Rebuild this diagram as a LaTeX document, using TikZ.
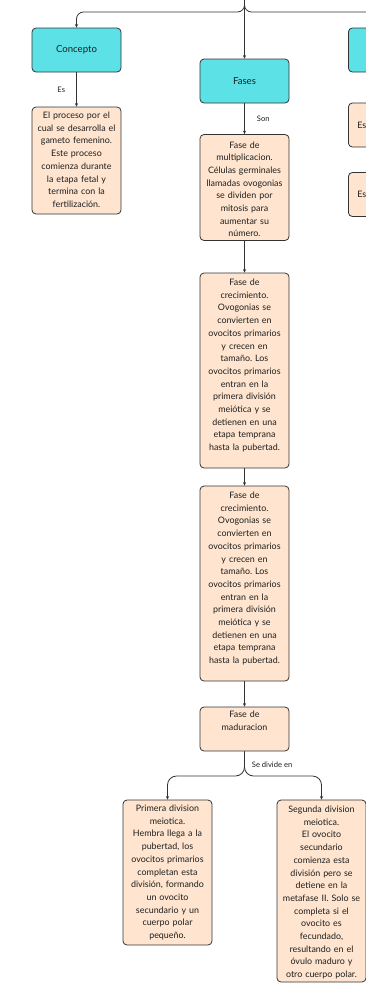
\documentclass[tikz,border=0pt]{standalone}
\usepackage{fontspec}
\setmainfont{Lato}
\usetikzlibrary{arrows.meta}
\definecolor{cyanfill}{HTML}{5CE1E6}
\definecolor{peach}{HTML}{FFE5CF}
\definecolor{edgec}{HTML}{333333}
\definecolor{txt}{HTML}{1E1E1E}
\frenchspacing
\begin{document}
\begin{tikzpicture}[x=1pt,y=-1pt,
  box/.style={draw=edgec, line width=0.8pt, rounded corners=4pt, minimum width=89pt,
    inner xsep=0pt, text width=89pt, align=center,
    font=\fontsize{8.9}{12.7}\selectfont\frenchspacing, text=txt},
  head/.style={box, fill=cyanfill, minimum height=44pt, font=\fontsize{9.6}{12}\selectfont},
  info/.style={box, fill=peach, text height=0pt},
  partial/.style={box, fill=peach, minimum height=44pt, anchor=west, align=left,
    text width=80pt, inner xsep=9pt},
  arr/.style={-{Stealth[length=3.5pt,width=3.2pt]}, line width=0.8pt, draw=edgec},
  lab/.style={font=\fontsize{7.6}{9}\selectfont, text=txt, inner sep=0pt}]
\useasboundingbox (0,0) rectangle (366,983);
\clip (0,0) rectangle (366,983);

% nodes
\node[head] (concepto) at (76.5,50) {Concepto};
\node[info, minimum height=107pt, text depth=84pt] (desc) at (76.5,160.5)
  {El proceso por el\\cual se desarrolla el\\gameto femenino.\\Este proceso\\comienza durante\\la etapa fetal y\\termina con la\\fertilización.};
\node[head] (fases) at (244.5,81) {Fases};
\node[info, minimum height=106pt, text depth=79pt] (mult) at (244.5,187.5)
  {Fase de\\multiplicacion.\\Células germinales\\llamadas ovogonias\\se dividen por\\mitosis para\\aumentar su\\número.};
\node[info, minimum height=195pt, text depth=170pt] (crec1) at (244.5,370.5)
  {Fase de\\crecimiento.\\Ovogonias se\\convierten en\\ovocitos primarios\\y crecen en\\tamaño. Los\\ovocitos primarios\\entran en la\\primera división\\meiótica y se\\detienen en una\\etapa temprana\\hasta la pubertad.};
\node[info, minimum height=195pt, text depth=170pt] (crec2) at (244.5,583.5)
  {Fase de\\crecimiento.\\Ovogonias se\\convierten en\\ovocitos primarios\\y crecen en\\tamaño. Los\\ovocitos primarios\\entran en la\\primera división\\meiótica y se\\detienen en una\\etapa temprana\\hasta la pubertad.};
\node[info, minimum height=44pt, text depth=23pt] (mad) at (244.5,729)
  {Fase de\\maduracion};
\node[info, minimum height=145pt, text depth=122pt] (prim) at (167.5,872.5)
  {Primera division\\meiotica.\\Hembra llega a la\\pubertad, los\\ovocitos primarios\\completan esta\\división, formando\\un ovocito\\secundario y un\\cuerpo polar\\pequeño.};
\node[info, minimum height=182pt, text depth=157pt] (seg) at (321.5,891)
  {Segunda division\\meiotica.\\El ovocito\\secundario\\comienza esta\\división pero se\\detiene en la\\metafase II. Solo se\\completa si el\\ovocito es\\fecundado,\\resultando en el\\óvulo maduro y\\otro cuerpo polar.};

% partially visible nodes on the right edge
\node[head, anchor=west] (rhead) at (348,50) {};
\node[partial] (r1) at (348,125) {Es};
\node[partial] (r2) at (348,194.5) {Es};

% connectors
\coordinate (top) at (244.5,0);
\coordinate (split) at (244.5,12);
\draw[arr, rounded corners=7pt] (top) -- (split) -| (concepto.north);
\draw[arr, rounded corners=7pt] (top) -- (split) -| (rhead.north);
\draw[arr] (top) -- (fases.north);
\draw[arr] (concepto.south) -- node[lab, left=11pt] {Es} (desc.north);
\draw[arr] (fases.south) -- node[lab, right=12pt] {Son} (mult.north);
\draw[arr] (mult.south) -- (crec1.north);
\draw[arr] (crec1.south) -- (crec2.north);
\draw[arr] (crec2.south) -- (mad.north);
\coordinate (msplit) at (244.5,776);
\draw[arr, rounded corners=9pt] (mad.south) -- node[lab, right=7pt, pos=0.56] {Se divide en} (msplit) -| (prim.north);
\draw[arr, rounded corners=9pt] (mad.south) -- (msplit) -| (seg.north);
\end{tikzpicture}
\end{document}
